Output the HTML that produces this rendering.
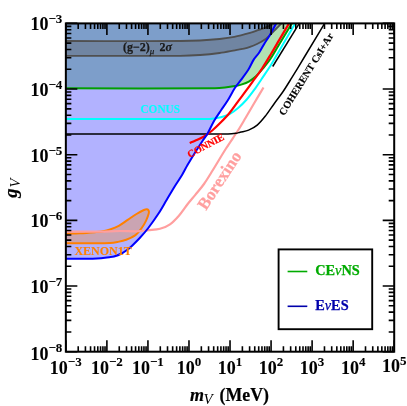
<!DOCTYPE html>
<html><head><meta charset="utf-8"><title>chart</title>
<style>html,body{margin:0;padding:0;background:#fff;}body{width:407px;height:406px;position:relative;overflow:hidden;font-family:"Liberation Serif",serif;}</style>
</head><body>
<svg width="407" height="406" viewBox="0 0 407 406" style="position:absolute;left:0;top:0;will-change:transform">
<defs><clipPath id="cp"><rect x="65.85" y="23.4" width="328.35" height="328.3"/></clipPath></defs>
<g clip-path="url(#cp)">
<path d="M65.85,88.30 C115.57,88.30 165.28,88.52 215.00,88.30 C218.34,88.29 221.68,87.97 225.00,87.60 C228.35,87.23 231.69,86.73 235.00,86.10 C237.33,85.66 239.65,85.13 241.90,84.40 C244.26,83.63 246.64,82.82 248.80,81.60 C251.27,80.20 253.61,78.52 255.70,76.60 C258.24,74.27 260.39,71.54 262.60,68.90 C265.16,65.84 267.75,62.79 270.00,59.50 C272.93,55.21 275.41,50.64 278.10,46.20 C282.71,38.60 287.30,31.00 291.90,23.40 L65.85,23.4Z" fill="#00a000" fill-opacity="0.3"/>
<path d="M65.85,258.80 C72.10,258.80 78.35,258.86 84.60,258.80 C88.73,258.76 92.87,258.77 97.00,258.50 C101.11,258.23 105.21,257.68 109.30,257.20 C110.87,257.01 112.48,256.96 114.00,256.50 C116.61,255.72 119.18,254.75 121.60,253.50 C123.87,252.33 125.95,250.82 128.00,249.30 C129.46,248.22 130.79,246.96 132.10,245.70 C134.62,243.29 137.14,240.87 139.50,238.30 C142.55,234.97 145.55,231.58 148.30,228.00 C151.96,223.24 155.42,218.32 158.70,213.30 C161.52,208.98 163.97,204.43 166.60,200.00 C169.33,195.40 171.99,190.75 174.80,186.20 C177.19,182.32 179.86,178.61 182.20,174.70 C184.09,171.54 185.65,168.18 187.50,165.00 C190.01,160.68 192.65,156.44 195.30,152.20 C197.75,148.27 200.25,144.37 202.80,140.50 C204.25,138.30 205.99,136.28 207.30,134.00 C209.83,129.61 211.76,124.89 214.30,120.50 C216.40,116.88 218.87,113.48 221.20,110.00 C223.27,106.91 225.54,103.96 227.50,100.80 C230.14,96.55 232.30,92.01 235.00,87.80 C236.74,85.10 238.90,82.69 240.80,80.10 C243.33,76.66 246.02,73.32 248.30,69.70 C250.33,66.47 251.66,62.82 253.70,59.60 C255.30,57.07 257.54,54.99 259.20,52.50 C261.04,49.74 262.47,46.73 264.20,43.90 C266.00,40.96 268.06,38.18 269.80,35.20 C272.06,31.34 274.07,27.33 276.20,23.40 L65.85,23.4Z" fill="#0000ff" fill-opacity="0.3"/>
<path d="M65.85,41.00 C103.90,41.00 141.95,41.14 180.00,41.00 C186.67,40.98 193.34,40.84 200.00,40.50 C206.54,40.17 213.08,39.68 219.60,39.00 C224.52,38.48 229.45,37.87 234.30,36.90 C239.59,35.84 244.80,34.37 250.00,32.90 C252.71,32.13 255.34,31.13 258.00,30.20 C260.68,29.26 263.38,28.38 266.00,27.30 C268.88,26.11 271.67,24.70 274.50,23.40 L281.5,23.4 L276.4,28.5 L270.0,35.0 L264.5,39.8 L257.0,44.0 L250.0,46.9 L244.0,48.6 L235.0,50.3 L219.6,53.0 L200.0,55.0 L180.0,55.8 L65.8,55.8Z" fill="#555555" fill-opacity="0.35"/>
<path d="M65.85,41.00 C103.90,41.00 141.95,41.14 180.00,41.00 C186.67,40.98 193.34,40.84 200.00,40.50 C206.54,40.17 213.08,39.68 219.60,39.00 C224.52,38.48 229.45,37.87 234.30,36.90 C239.59,35.84 244.80,34.37 250.00,32.90 C252.71,32.13 255.34,31.13 258.00,30.20 C260.68,29.26 263.38,28.38 266.00,27.30 C268.88,26.11 271.67,24.70 274.50,23.40" fill="none" stroke="#505050" stroke-width="1.8"/>
<path d="M65.85,55.80 C103.90,55.80 141.95,56.03 180.00,55.80 C186.67,55.76 193.34,55.47 200.00,55.00 C206.55,54.54 213.09,53.87 219.60,53.00 C224.77,52.31 229.87,51.22 235.00,50.30 C238.00,49.76 241.02,49.27 244.00,48.60 C246.03,48.14 248.04,47.59 250.00,46.90 C252.38,46.06 254.73,45.11 257.00,44.00 C259.57,42.74 262.14,41.43 264.50,39.80 C266.50,38.41 268.24,36.68 270.00,35.00 C272.20,32.91 274.26,30.66 276.40,28.50 C278.09,26.79 279.80,25.10 281.50,23.40" fill="none" stroke="#505050" stroke-width="1.8"/>
<path d="M65.85,233.70 C70.57,233.57 75.29,233.54 80.00,233.30 C85.01,233.04 90.01,232.63 95.00,232.20 C97.67,231.97 100.36,231.78 103.00,231.30 C105.37,230.87 107.72,230.29 110.00,229.50 C113.01,228.45 116.00,227.32 118.80,225.80 C121.93,224.10 124.74,221.87 127.70,219.90 C130.64,217.94 133.49,215.84 136.50,214.00 C138.89,212.54 141.34,211.15 143.90,210.00 C144.87,209.57 145.95,209.19 147.00,209.30 C147.66,209.37 148.33,209.89 148.60,210.50 C148.98,211.35 149.02,212.39 148.80,213.30 C148.18,215.82 147.23,218.26 146.10,220.60 C144.85,223.18 143.41,225.70 141.70,228.00 C139.73,230.65 137.73,233.40 135.10,235.40 C132.47,237.40 129.30,238.64 126.20,239.80 C123.37,240.86 120.37,241.41 117.40,242.00 C114.96,242.48 112.49,242.89 110.00,243.00 C103.34,243.29 96.67,243.17 90.00,243.20 C81.95,243.24 73.90,243.20 65.85,243.20" fill="#ff8000" fill-opacity="0.3" stroke="#ff8000" stroke-width="2"/>
<path d="M65.85,231.60 C77.23,231.60 88.62,231.73 100.00,231.60 C106.67,231.53 113.33,231.05 120.00,231.00 C125.50,230.95 131.00,231.46 136.50,231.30 C140.45,231.19 144.37,230.62 148.30,230.20 C152.21,229.78 156.21,229.83 160.00,228.80 C163.53,227.84 166.99,226.37 170.00,224.30 C173.38,221.98 176.20,218.89 178.90,215.80 C182.12,212.10 184.68,207.86 187.70,204.00 C190.08,200.96 192.66,198.09 195.10,195.10 C198.10,191.42 201.26,187.87 204.00,184.00 C207.20,179.49 209.99,174.70 212.90,170.00 C217.32,162.87 221.50,155.58 226.00,148.50 C229.97,142.25 234.31,136.24 238.30,130.00 C240.81,126.07 243.12,122.01 245.50,118.00 C248.36,113.18 251.15,108.32 254.00,103.50 C257.15,98.16 260.33,92.83 263.50,87.50" fill="none" stroke="#ff9f9f" stroke-width="2.2"/>
<path d="M65.85,88.30 C115.57,88.30 165.28,88.52 215.00,88.30 C218.34,88.29 221.68,87.97 225.00,87.60 C228.35,87.23 231.69,86.73 235.00,86.10 C237.33,85.66 239.65,85.13 241.90,84.40 C244.26,83.63 246.64,82.82 248.80,81.60 C251.27,80.20 253.61,78.52 255.70,76.60 C258.24,74.27 260.39,71.54 262.60,68.90 C265.16,65.84 267.75,62.79 270.00,59.50 C272.93,55.21 275.41,50.64 278.10,46.20 C282.71,38.60 287.30,31.00 291.90,23.40" fill="none" stroke="#00a000" stroke-width="2"/>
<path d="M65.85,119.00 C112.23,119.00 158.62,119.06 205.00,119.00 C207.33,119.00 209.68,119.05 212.00,118.80 C214.99,118.48 217.99,118.06 220.90,117.30 C223.85,116.53 226.82,115.65 229.50,114.20 C232.61,112.52 235.41,110.30 238.10,108.00 C241.16,105.38 244.05,102.54 246.70,99.50 C249.80,95.95 252.53,92.11 255.30,88.30 C257.50,85.27 259.51,82.11 261.60,79.00 C264.67,74.44 267.88,69.96 270.80,65.30 C273.68,60.69 276.27,55.90 279.00,51.20 C284.37,41.94 289.73,32.67 295.10,23.40" fill="none" stroke="#00ffff" stroke-width="2"/>
<path d="M65.85,134.00 C119.90,134.00 173.95,134.22 228.00,134.00 C230.68,133.99 233.35,133.68 236.00,133.30 C237.36,133.11 238.67,132.64 240.00,132.30 C242.87,131.57 245.87,131.24 248.60,130.10 C251.66,128.82 254.67,127.25 257.20,125.10 C260.51,122.29 263.21,118.81 265.90,115.40 C268.98,111.50 271.59,107.24 274.50,103.20 C277.33,99.27 280.38,95.50 283.10,91.50 C286.12,87.06 288.88,82.46 291.70,77.90 C296.18,70.63 300.59,63.31 305.00,56.00 C311.55,45.15 318.07,34.27 324.60,23.40" fill="none" stroke="#000" stroke-width="1.5"/>
<path d="M272.7,66.5 L299.3,23.4" fill="none" stroke="#000" stroke-width="1.5"/>
<path d="M189.70,143.00 C191.47,142.27 193.25,141.58 195.00,140.80 C197.89,139.51 200.89,138.42 203.60,136.80 C206.65,134.97 209.48,132.78 212.20,130.50 C215.25,127.94 218.10,125.13 220.90,122.30 C223.87,119.30 226.82,116.27 229.50,113.00 C232.57,109.26 235.21,105.18 238.10,101.30 C241.11,97.25 244.21,93.26 247.20,89.20 C249.71,85.80 252.14,82.33 254.60,78.90 C257.14,75.37 259.81,71.93 262.20,68.30 C265.38,63.46 268.31,58.46 271.30,53.50 C273.91,49.16 276.43,44.77 279.00,40.40 C282.33,34.73 285.67,29.07 289.00,23.40" fill="none" stroke="#ff0000" stroke-width="2.2"/>
<path d="M65.85,258.80 C72.10,258.80 78.35,258.86 84.60,258.80 C88.73,258.76 92.87,258.77 97.00,258.50 C101.11,258.23 105.21,257.68 109.30,257.20 C110.87,257.01 112.48,256.96 114.00,256.50 C116.61,255.72 119.18,254.75 121.60,253.50 C123.87,252.33 125.95,250.82 128.00,249.30 C129.46,248.22 130.79,246.96 132.10,245.70 C134.62,243.29 137.14,240.87 139.50,238.30 C142.55,234.97 145.55,231.58 148.30,228.00 C151.96,223.24 155.42,218.32 158.70,213.30 C161.52,208.98 163.97,204.43 166.60,200.00 C169.33,195.40 171.99,190.75 174.80,186.20 C177.19,182.32 179.86,178.61 182.20,174.70 C184.09,171.54 185.65,168.18 187.50,165.00 C190.01,160.68 192.65,156.44 195.30,152.20 C197.75,148.27 200.25,144.37 202.80,140.50 C204.25,138.30 205.99,136.28 207.30,134.00 C209.83,129.61 211.76,124.89 214.30,120.50 C216.40,116.88 218.87,113.48 221.20,110.00 C223.27,106.91 225.54,103.96 227.50,100.80 C230.14,96.55 232.30,92.01 235.00,87.80 C236.74,85.10 238.90,82.69 240.80,80.10 C243.33,76.66 246.02,73.32 248.30,69.70 C250.33,66.47 251.66,62.82 253.70,59.60 C255.30,57.07 257.54,54.99 259.20,52.50 C261.04,49.74 262.47,46.73 264.20,43.90 C266.00,40.96 268.06,38.18 269.80,35.20 C272.06,31.34 274.07,27.33 276.20,23.40" fill="none" stroke="#0000ff" stroke-width="2"/>
</g>
<path d="M65.85,351.7v-11.5 M65.85,23.4v11.5 M78.21,351.7v-5.5 M78.21,23.4v5.5 M85.43,351.7v-5.5 M85.43,23.4v5.5 M90.56,351.7v-5.5 M90.56,23.4v5.5 M94.54,351.7v-5.5 M94.54,23.4v5.5 M97.79,351.7v-5.5 M97.79,23.4v5.5 M100.54,351.7v-5.5 M100.54,23.4v5.5 M102.92,351.7v-5.5 M102.92,23.4v5.5 M105.02,351.7v-5.5 M105.02,23.4v5.5 M106.89,351.7v-11.5 M106.89,23.4v11.5 M119.25,351.7v-5.5 M119.25,23.4v5.5 M126.48,351.7v-5.5 M126.48,23.4v5.5 M131.60,351.7v-5.5 M131.60,23.4v5.5 M135.58,351.7v-5.5 M135.58,23.4v5.5 M138.83,351.7v-5.5 M138.83,23.4v5.5 M141.58,351.7v-5.5 M141.58,23.4v5.5 M143.96,351.7v-5.5 M143.96,23.4v5.5 M146.06,351.7v-5.5 M146.06,23.4v5.5 M147.94,351.7v-11.5 M147.94,23.4v11.5 M160.29,351.7v-5.5 M160.29,23.4v5.5 M167.52,351.7v-5.5 M167.52,23.4v5.5 M172.65,351.7v-5.5 M172.65,23.4v5.5 M176.63,351.7v-5.5 M176.63,23.4v5.5 M179.88,351.7v-5.5 M179.88,23.4v5.5 M182.62,351.7v-5.5 M182.62,23.4v5.5 M185.00,351.7v-5.5 M185.00,23.4v5.5 M187.10,351.7v-5.5 M187.10,23.4v5.5 M188.98,351.7v-11.5 M188.98,23.4v11.5 M201.34,351.7v-5.5 M201.34,23.4v5.5 M208.56,351.7v-5.5 M208.56,23.4v5.5 M213.69,351.7v-5.5 M213.69,23.4v5.5 M217.67,351.7v-5.5 M217.67,23.4v5.5 M220.92,351.7v-5.5 M220.92,23.4v5.5 M223.67,351.7v-5.5 M223.67,23.4v5.5 M226.05,351.7v-5.5 M226.05,23.4v5.5 M228.15,351.7v-5.5 M228.15,23.4v5.5 M230.03,351.7v-11.5 M230.03,23.4v11.5 M242.38,351.7v-5.5 M242.38,23.4v5.5 M249.61,351.7v-5.5 M249.61,23.4v5.5 M254.74,351.7v-5.5 M254.74,23.4v5.5 M258.71,351.7v-5.5 M258.71,23.4v5.5 M261.96,351.7v-5.5 M261.96,23.4v5.5 M264.71,351.7v-5.5 M264.71,23.4v5.5 M267.09,351.7v-5.5 M267.09,23.4v5.5 M269.19,351.7v-5.5 M269.19,23.4v5.5 M271.07,351.7v-11.5 M271.07,23.4v11.5 M283.42,351.7v-5.5 M283.42,23.4v5.5 M290.65,351.7v-5.5 M290.65,23.4v5.5 M295.78,351.7v-5.5 M295.78,23.4v5.5 M299.76,351.7v-5.5 M299.76,23.4v5.5 M303.01,351.7v-5.5 M303.01,23.4v5.5 M305.75,351.7v-5.5 M305.75,23.4v5.5 M308.13,351.7v-5.5 M308.13,23.4v5.5 M310.23,351.7v-5.5 M310.23,23.4v5.5 M312.11,351.7v-11.5 M312.11,23.4v11.5 M324.47,351.7v-5.5 M324.47,23.4v5.5 M331.70,351.7v-5.5 M331.70,23.4v5.5 M336.82,351.7v-5.5 M336.82,23.4v5.5 M340.80,351.7v-5.5 M340.80,23.4v5.5 M344.05,351.7v-5.5 M344.05,23.4v5.5 M346.80,351.7v-5.5 M346.80,23.4v5.5 M349.18,351.7v-5.5 M349.18,23.4v5.5 M351.28,351.7v-5.5 M351.28,23.4v5.5 M353.16,351.7v-11.5 M353.16,23.4v11.5 M365.51,351.7v-5.5 M365.51,23.4v5.5 M372.74,351.7v-5.5 M372.74,23.4v5.5 M377.87,351.7v-5.5 M377.87,23.4v5.5 M381.84,351.7v-5.5 M381.84,23.4v5.5 M385.09,351.7v-5.5 M385.09,23.4v5.5 M387.84,351.7v-5.5 M387.84,23.4v5.5 M390.22,351.7v-5.5 M390.22,23.4v5.5 M392.32,351.7v-5.5 M392.32,23.4v5.5 M394.20,351.7v-11.5 M394.20,23.4v11.5 M65.85,351.70h11.5 M394.2,351.70h-11.5 M65.85,331.93h5.5 M394.2,331.93h-5.5 M65.85,320.37h5.5 M394.2,320.37h-5.5 M65.85,312.17h5.5 M394.2,312.17h-5.5 M65.85,305.81h5.5 M394.2,305.81h-5.5 M65.85,300.61h5.5 M394.2,300.61h-5.5 M65.85,296.21h5.5 M394.2,296.21h-5.5 M65.85,292.40h5.5 M394.2,292.40h-5.5 M65.85,289.04h5.5 M394.2,289.04h-5.5 M65.85,286.04h11.5 M394.2,286.04h-11.5 M65.85,266.27h5.5 M394.2,266.27h-5.5 M65.85,254.71h5.5 M394.2,254.71h-5.5 M65.85,246.51h5.5 M394.2,246.51h-5.5 M65.85,240.15h5.5 M394.2,240.15h-5.5 M65.85,234.95h5.5 M394.2,234.95h-5.5 M65.85,230.55h5.5 M394.2,230.55h-5.5 M65.85,226.74h5.5 M394.2,226.74h-5.5 M65.85,223.38h5.5 M394.2,223.38h-5.5 M65.85,220.38h11.5 M394.2,220.38h-11.5 M65.85,200.61h5.5 M394.2,200.61h-5.5 M65.85,189.05h5.5 M394.2,189.05h-5.5 M65.85,180.85h5.5 M394.2,180.85h-5.5 M65.85,174.49h5.5 M394.2,174.49h-5.5 M65.85,169.29h5.5 M394.2,169.29h-5.5 M65.85,164.89h5.5 M394.2,164.89h-5.5 M65.85,161.08h5.5 M394.2,161.08h-5.5 M65.85,157.72h5.5 M394.2,157.72h-5.5 M65.85,154.72h11.5 M394.2,154.72h-11.5 M65.85,134.95h5.5 M394.2,134.95h-5.5 M65.85,123.39h5.5 M394.2,123.39h-5.5 M65.85,115.19h5.5 M394.2,115.19h-5.5 M65.85,108.83h5.5 M394.2,108.83h-5.5 M65.85,103.63h5.5 M394.2,103.63h-5.5 M65.85,99.23h5.5 M394.2,99.23h-5.5 M65.85,95.42h5.5 M394.2,95.42h-5.5 M65.85,92.06h5.5 M394.2,92.06h-5.5 M65.85,89.06h11.5 M394.2,89.06h-11.5 M65.85,69.29h5.5 M394.2,69.29h-5.5 M65.85,57.73h5.5 M394.2,57.73h-5.5 M65.85,49.53h5.5 M394.2,49.53h-5.5 M65.85,43.17h5.5 M394.2,43.17h-5.5 M65.85,37.97h5.5 M394.2,37.97h-5.5 M65.85,33.57h5.5 M394.2,33.57h-5.5 M65.85,29.76h5.5 M394.2,29.76h-5.5 M65.85,26.40h5.5 M394.2,26.40h-5.5 M65.85,23.40h11.5 M394.2,23.40h-11.5" stroke="#000" stroke-width="1.6" fill="none"/>
<rect x="65.85" y="23.4" width="328.35" height="328.30" fill="none" stroke="#000" stroke-width="2"/>
<rect x="278.6" y="249.4" width="93.6" height="79.8" fill="#fff" stroke="#000" stroke-width="1.9"/>
<path d="M287.6,271.5H307.3" stroke="#00ab00" stroke-width="1.6"/>
<path d="M287.6,306.3H307.3" stroke="#0000ab" stroke-width="1.6"/>
<text x="315.2" y="274.9" font-family="Liberation Serif, serif" font-weight="bold" font-size="14.3" fill="#00ab00" stroke="#00ab00" stroke-width="0.25">CE<tspan font-style="italic" font-weight="normal">ν</tspan>NS</text>
<text x="315.2" y="309.9" font-family="Liberation Serif, serif" font-weight="bold" font-size="14.3" fill="#0000ab" stroke="#0000ab" stroke-width="0.25">E<tspan font-style="italic" font-weight="normal">ν</tspan>ES</text>
<text x="65.8" y="373.5" font-family="Liberation Serif, serif" font-weight="bold" font-size="18" text-anchor="middle" fill="#000" stroke="#000" stroke-width="0.1">10<tspan font-size="13" dy="-7.1">−3</tspan></text>
<text x="106.9" y="373.5" font-family="Liberation Serif, serif" font-weight="bold" font-size="18" text-anchor="middle" fill="#000" stroke="#000" stroke-width="0.1">10<tspan font-size="13" dy="-7.1">−2</tspan></text>
<text x="147.9" y="373.5" font-family="Liberation Serif, serif" font-weight="bold" font-size="18" text-anchor="middle" fill="#000" stroke="#000" stroke-width="0.1">10<tspan font-size="13" dy="-7.1">−1</tspan></text>
<text x="189.0" y="373.5" font-family="Liberation Serif, serif" font-weight="bold" font-size="18" text-anchor="middle" fill="#000" stroke="#000" stroke-width="0.1">10<tspan font-size="13" dy="-7.1">0</tspan></text>
<text x="230.0" y="373.5" font-family="Liberation Serif, serif" font-weight="bold" font-size="18" text-anchor="middle" fill="#000" stroke="#000" stroke-width="0.1">10<tspan font-size="13" dy="-7.1">1</tspan></text>
<text x="271.1" y="373.5" font-family="Liberation Serif, serif" font-weight="bold" font-size="18" text-anchor="middle" fill="#000" stroke="#000" stroke-width="0.1">10<tspan font-size="13" dy="-7.1">2</tspan></text>
<text x="312.1" y="373.5" font-family="Liberation Serif, serif" font-weight="bold" font-size="18" text-anchor="middle" fill="#000" stroke="#000" stroke-width="0.1">10<tspan font-size="13" dy="-7.1">3</tspan></text>
<text x="353.2" y="373.5" font-family="Liberation Serif, serif" font-weight="bold" font-size="18" text-anchor="middle" fill="#000" stroke="#000" stroke-width="0.1">10<tspan font-size="13" dy="-7.1">4</tspan></text>
<text x="394.2" y="371.7" font-family="Liberation Serif, serif" font-weight="bold" font-size="18" text-anchor="middle" fill="#000" stroke="#000" stroke-width="0.1">10<tspan font-size="13" dy="-7.1">5</tspan></text>
<text x="62.3" y="359.5" font-family="Liberation Serif, serif" font-weight="bold" font-size="18" text-anchor="end" fill="#000" stroke="#000" stroke-width="0.1">10<tspan font-size="13" dy="-7.4">−8</tspan></text>
<text x="62.3" y="293.0" font-family="Liberation Serif, serif" font-weight="bold" font-size="18" text-anchor="end" fill="#000" stroke="#000" stroke-width="0.1">10<tspan font-size="13" dy="-7.1">−7</tspan></text>
<text x="62.3" y="227.4" font-family="Liberation Serif, serif" font-weight="bold" font-size="18" text-anchor="end" fill="#000" stroke="#000" stroke-width="0.1">10<tspan font-size="13" dy="-7.1">−6</tspan></text>
<text x="62.3" y="161.7" font-family="Liberation Serif, serif" font-weight="bold" font-size="18" text-anchor="end" fill="#000" stroke="#000" stroke-width="0.1">10<tspan font-size="13" dy="-7.1">−5</tspan></text>
<text x="62.3" y="96.1" font-family="Liberation Serif, serif" font-weight="bold" font-size="18" text-anchor="end" fill="#000" stroke="#000" stroke-width="0.1">10<tspan font-size="13" dy="-7.1">−4</tspan></text>
<text x="62.3" y="30.4" font-family="Liberation Serif, serif" font-weight="bold" font-size="18" text-anchor="end" fill="#000" stroke="#000" stroke-width="0.1">10<tspan font-size="13" dy="-7.1">−3</tspan></text>
<text x="190" y="401" font-family="Liberation Serif, serif" font-weight="bold" font-size="18" font-style="italic" fill="#000" stroke="#000" stroke-width="0.2">m</text>
<text x="203.6" y="404.2" font-family="Liberation Serif, serif" font-size="15" font-style="italic" fill="#000">V</text>
<text x="219.6" y="401" font-family="Liberation Serif, serif" font-weight="bold" font-size="17.8" fill="#000" stroke="#000" stroke-width="0.2">(MeV)</text>
<text transform="translate(16.9,197.7) rotate(-90)" font-family="Liberation Serif, serif" font-weight="bold" font-size="18.5" font-style="italic" fill="#000" stroke="#000" stroke-width="0.2">g</text>
<text transform="translate(19.5,187.4) rotate(-90)" font-family="Liberation Serif, serif" font-size="14.5" font-style="italic" fill="#000">V</text>
<text x="123" y="51.3" font-family="Liberation Serif, serif" font-weight="bold" font-size="12" fill="#1a1a1a" stroke="#1a1a1a" stroke-width="0.25">(g−2)<tspan font-style="italic" font-weight="normal" font-size="9" dy="2.5">μ</tspan><tspan dy="-2.5" dx="2"> 2</tspan><tspan font-style="italic">σ</tspan></text>
<text transform="translate(140.4,112.9) scale(0.915,1)" font-family="Liberation Serif, serif" font-weight="bold" font-size="12.4" fill="#00ffff" stroke="#00ffff" stroke-width="0.12">CONUS</text>
<text transform="translate(74.4,255.4) scale(0.94,1)" font-family="Liberation Serif, serif" font-weight="bold" font-size="12.8" fill="#ff8000" stroke="#ff8000" stroke-width="0.1">XENON1T</text>
<text transform="translate(189.6,157.9) rotate(-28)" font-family="Liberation Serif, serif" font-weight="bold" font-size="10" fill="#ff0000" stroke="#ff0000" stroke-width="0.25">CONNIE</text>
<text transform="translate(206,211) rotate(-56.8)" font-family="Liberation Serif, serif" font-weight="bold" font-size="17" fill="#ff9f9f" stroke="#ff9f9f" stroke-width="0.25">Borexino</text>
<text transform="translate(284.2,116.2) rotate(-58.3)" font-family="Liberation Serif, serif" font-weight="bold" font-size="10.3" fill="#000" stroke="#000" stroke-width="0.15">COHERENT CsI+Ar</text>
</svg>
</body></html>
